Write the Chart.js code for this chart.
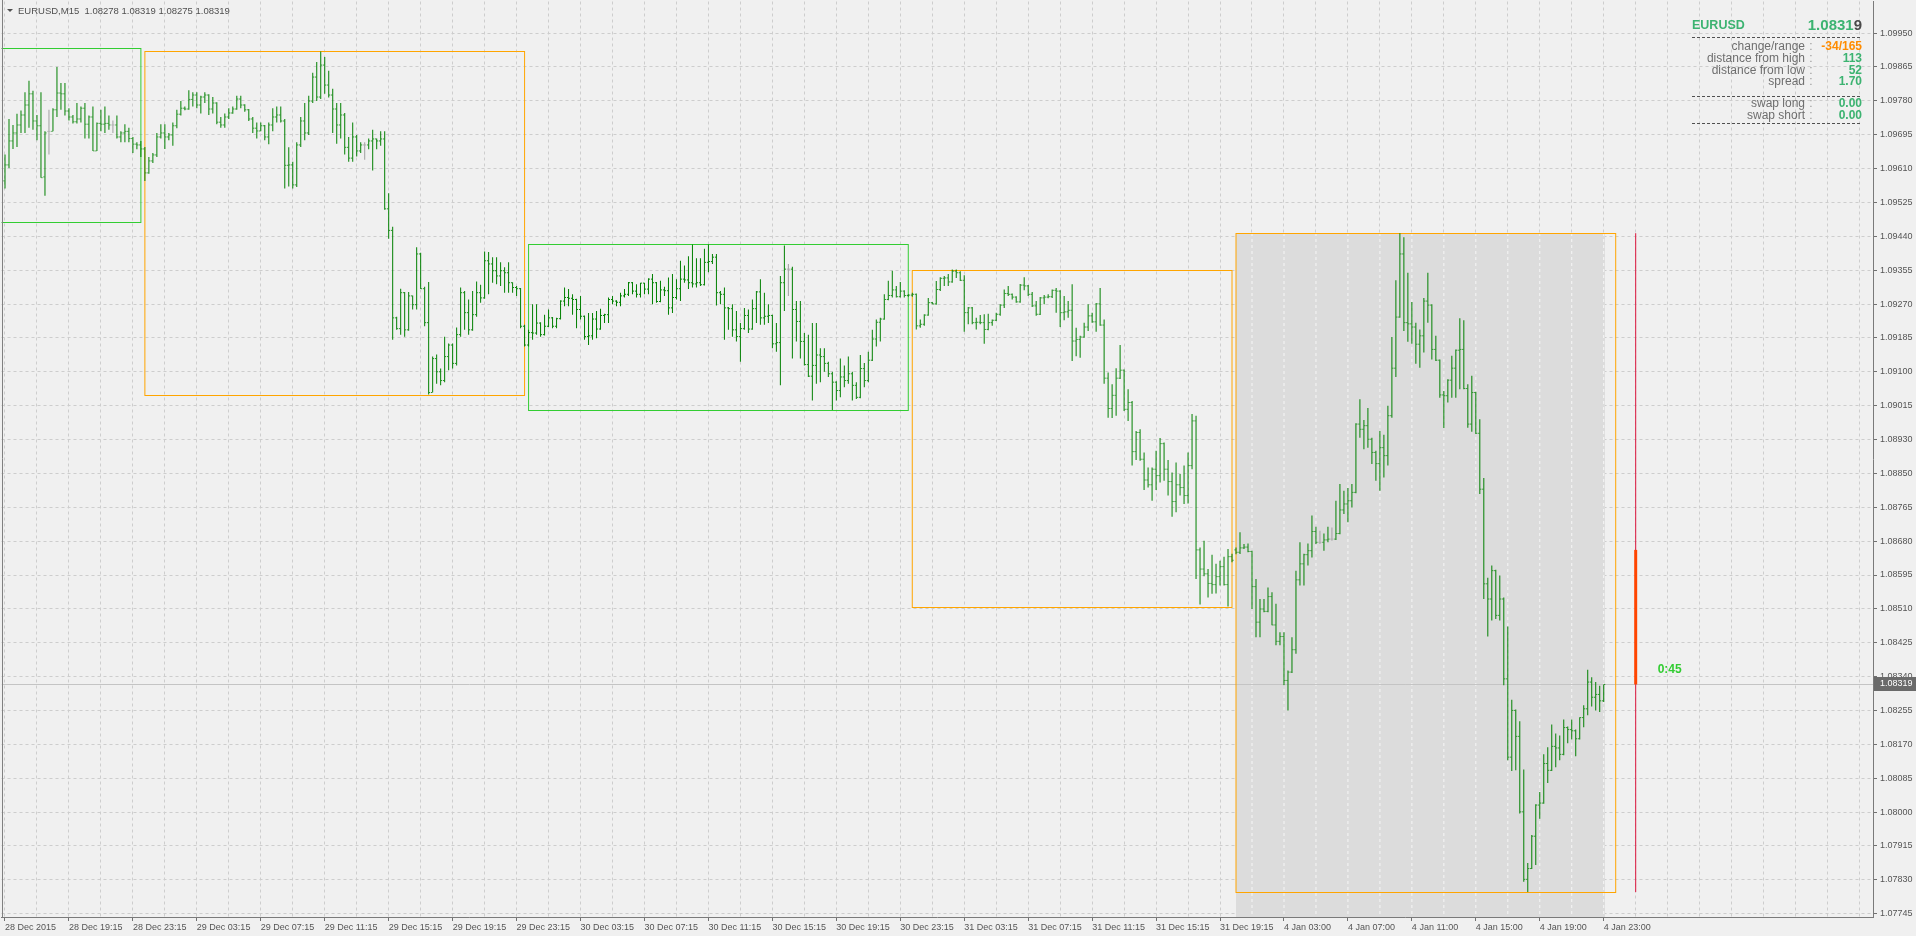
<!DOCTYPE html>
<html>
<head>
<meta charset="utf-8">
<script src="https://cdn.jsdelivr.net/npm/chart.js@4.4.1/dist/chart.umd.min.js"></script>
<style>
  html, body { margin: 0; padding: 0; background: #f0f0f0; overflow: hidden; }
  #graficoEurusd { display: block; background: #f0f0f0; }
</style>
</head>
<body>
<canvas id="graficoEurusd" width="1916" height="936"></canvas>
<script>
// EURUSD M15, 28 Dec 2015 15:15 .. 4 Jan 2016 23:00 (one entry per bar)
const opens = [
  1.09580,1.09620,1.09680,1.09700,1.09720,1.09745,1.09770,1.09798,1.09730,1.09718,
  1.09590,1.09704,1.09704,1.09758,1.09800,1.09798,1.09755,1.09740,1.09728,1.09735,
  1.09762,1.09722,1.09740,1.09655,1.09724,1.09722,1.09724,1.09720,1.09720,1.09690,
  1.09700,1.09704,1.09686,1.09672,1.09670,1.09660,1.09600,1.09630,1.09645,1.09690,
  1.09700,1.09690,1.09695,1.09718,1.09747,1.09762,1.09760,1.09784,1.09795,1.09770,
  1.09790,1.09795,1.09760,1.09775,1.09727,1.09720,1.09740,1.09750,1.09760,1.09785,
  1.09770,1.09758,1.09735,1.09712,1.09705,1.09718,1.09690,1.09720,1.09740,1.09745,
  1.09730,1.09619,1.09620,1.09570,1.09670,1.09730,1.09700,1.09780,1.09840,1.09790,
  1.09870,1.09820,1.09795,1.09760,1.09720,1.09745,1.09664,1.09637,1.09690,1.09655,
  1.09670,1.09670,1.09680,1.09685,1.09680,1.09685,1.09510,1.09456,1.09237,1.09210,
  1.09300,1.09207,1.09292,1.09270,1.09397,1.09310,1.09225,1.09050,1.09135,1.09102,
  1.09080,1.09140,1.09169,1.09123,1.09195,1.09300,1.09250,1.09207,1.09245,1.09300,
  1.09287,1.09380,1.09372,1.09355,1.09342,1.09355,1.09350,1.09325,1.09313,1.09310,
  1.09216,1.09169,1.09200,1.09199,1.09224,1.09195,1.09216,1.09237,1.09216,1.09235,
  1.09279,1.09288,1.09286,1.09283,1.09258,1.09241,1.09190,1.09192,1.09234,1.09209,
  1.09243,1.09245,1.09283,1.09279,1.09276,1.09292,1.09296,1.09325,1.09304,1.09296,
  1.09324,1.09309,1.09334,1.09325,1.09278,1.09307,1.09305,1.09262,1.09288,1.09310,
  1.09334,1.09332,1.09325,1.09322,1.09325,1.09320,1.09376,1.09378,1.09389,1.09300,
  1.09296,1.09262,1.09260,1.09207,1.09190,1.09210,1.09243,1.09209,1.09260,1.09302,
  1.09237,1.09241,1.09243,1.09172,1.09175,1.09325,1.09359,1.09359,1.09258,1.09228,
  1.09178,1.09120,1.09091,1.09118,1.09144,1.09140,1.09123,1.09097,1.09076,1.09055,
  1.09089,1.09080,1.09097,1.09068,1.09038,1.09110,1.09080,1.09131,1.09184,1.09226,
  1.09234,1.09283,1.09293,1.09307,1.09290,1.09304,1.09293,1.09294,1.09296,1.09217,
  1.09221,1.09244,1.09275,1.09272,1.09308,1.09336,1.09337,1.09327,1.09354,1.09350,
  1.09331,1.09250,1.09262,1.09225,1.09226,1.09225,1.09208,1.09225,1.09231,1.09246,
  1.09269,1.09298,1.09296,1.09289,1.09277,1.09319,1.09317,1.09296,1.09267,1.09246,
  1.09287,1.09289,1.09290,1.09306,1.09304,1.09250,1.09252,1.09256,1.09179,1.09183,
  1.09189,1.09214,1.09242,1.09227,1.09272,1.09219,1.09086,1.09010,1.09043,1.09086,
  1.09106,1.09008,1.09025,1.08902,1.08950,1.08883,1.08831,1.08819,1.08858,1.08842,
  1.08922,1.08858,1.08827,1.08777,1.08819,1.08812,1.08792,1.08867,1.08979,1.08656,
  1.08608,1.08596,1.08572,1.08569,1.08589,1.08614,1.08569,1.08639,1.08656,1.08650,
  1.08661,1.08663,1.08652,1.08564,1.08475,1.08508,1.08502,1.08539,1.08468,1.08427,
  1.08439,1.08329,1.08350,1.08406,1.08581,1.08621,1.08644,1.08654,1.08702,1.08675,
  1.08675,1.08681,1.08683,1.08683,1.08697,1.08756,1.08771,1.08779,1.08800,1.08971,
  1.08958,1.08967,1.08933,1.08900,1.08872,1.08912,1.08892,1.08992,1.09111,1.09239,
  1.09397,1.09225,1.09222,1.09214,1.09171,1.09192,1.09279,1.09269,1.09158,1.09131,
  1.09044,1.09042,1.09081,1.09111,1.09156,1.09158,1.09060,1.08971,1.09050,1.08948,
  1.08808,1.08571,1.08533,1.08604,1.08492,1.08533,1.08333,1.08137,1.08254,1.08189,
  1.08000,1.07831,1.07858,1.07939,1.08017,1.08022,1.08121,1.08104,1.08164,1.08160,
  1.08144,1.08211,1.08206,1.08203,1.08183,1.08236,1.08258,1.08325,1.08287,1.08294,
  1.08278
];
const highs = [
  1.09646,1.09735,1.09720,1.09748,1.09756,1.09802,1.09831,1.09806,1.09745,1.09802,
  1.09704,1.09758,1.09762,1.09865,1.09825,1.09825,1.09762,1.09745,1.09775,1.09766,
  1.09775,1.09744,1.09766,1.09726,1.09758,1.09766,1.09744,1.09731,1.09744,1.09704,
  1.09722,1.09713,1.09690,1.09677,1.09680,1.09665,1.09640,1.09650,1.09700,1.09722,
  1.09722,1.09700,1.09726,1.09758,1.09780,1.09766,1.09807,1.09802,1.09802,1.09793,
  1.09802,1.09797,1.09790,1.09777,1.09740,1.09749,1.09762,1.09766,1.09793,1.09793,
  1.09772,1.09760,1.09740,1.09726,1.09726,1.09720,1.09726,1.09762,1.09766,1.09766,
  1.09735,1.09664,1.09628,1.09677,1.09740,1.09775,1.09793,1.09851,1.09878,1.09904,
  1.09890,1.09856,1.09811,1.09775,1.09775,1.09750,1.09690,1.09726,1.09695,1.09677,
  1.09677,1.09686,1.09708,1.09686,1.09704,1.09704,1.09549,1.09465,1.09240,1.09310,
  1.09302,1.09302,1.09293,1.09414,1.09400,1.09315,1.09327,1.09140,1.09145,1.09110,
  1.09190,1.09173,1.09173,1.09213,1.09313,1.09304,1.09283,1.09304,1.09328,1.09320,
  1.09403,1.09402,1.09389,1.09389,1.09376,1.09364,1.09376,1.09326,1.09317,1.09312,
  1.09220,1.09207,1.09271,1.09271,1.09226,1.09245,1.09258,1.09239,1.09237,1.09281,
  1.09313,1.09309,1.09296,1.09285,1.09292,1.09243,1.09249,1.09249,1.09254,1.09260,
  1.09247,1.09288,1.09292,1.09281,1.09300,1.09309,1.09327,1.09327,1.09321,1.09325,
  1.09325,1.09336,1.09347,1.09327,1.09330,1.09315,1.09338,1.09347,1.09334,1.09380,
  1.09368,1.09391,1.09421,1.09386,1.09386,1.09410,1.09421,1.09397,1.09397,1.09304,
  1.09313,1.09264,1.09271,1.09254,1.09224,1.09262,1.09258,1.09283,1.09304,1.09334,
  1.09300,1.09271,1.09245,1.09224,1.09342,1.09418,1.09372,1.09365,1.09279,1.09279,
  1.09199,1.09195,1.09224,1.09224,1.09161,1.09161,1.09127,1.09102,1.09078,1.09135,
  1.09118,1.09140,1.09102,1.09076,1.09144,1.09124,1.09152,1.09207,1.09233,1.09237,
  1.09296,1.09330,1.09355,1.09317,1.09327,1.09306,1.09296,1.09300,1.09298,1.09233,
  1.09246,1.09287,1.09277,1.09329,1.09339,1.09342,1.09347,1.09358,1.09358,1.09354,
  1.09344,1.09264,1.09264,1.09237,1.09244,1.09246,1.09247,1.09233,1.09250,1.09271,
  1.09308,1.09317,1.09298,1.09291,1.09322,1.09339,1.09319,1.09302,1.09279,1.09289,
  1.09294,1.09296,1.09308,1.09312,1.09306,1.09292,1.09279,1.09321,1.09212,1.09192,
  1.09225,1.09271,1.09250,1.09274,1.09312,1.09233,1.09100,1.09071,1.09111,1.09169,
  1.09108,1.09058,1.09029,1.08954,1.08958,1.08900,1.08862,1.08862,1.08904,1.08936,
  1.08925,1.08881,1.08850,1.08875,1.08846,1.08867,1.08900,1.08996,1.08992,1.08662,
  1.08679,1.08608,1.08644,1.08621,1.08629,1.08639,1.08658,1.08646,1.08662,1.08700,
  1.08671,1.08672,1.08654,1.08583,1.08533,1.08533,1.08562,1.08550,1.08521,1.08450,
  1.08450,1.08354,1.08437,1.08604,1.08675,1.08646,1.08672,1.08742,1.08714,1.08704,
  1.08697,1.08714,1.08712,1.08779,1.08821,1.08804,1.08811,1.08821,1.08973,1.09033,
  1.08981,1.09011,1.08937,1.08904,1.08954,1.08944,1.09017,1.09189,1.09331,1.09449,
  1.09439,1.09350,1.09277,1.09225,1.09208,1.09287,1.09350,1.09271,1.09192,1.09133,
  1.09054,1.09083,1.09142,1.09158,1.09236,1.09231,1.09071,1.09092,1.09052,1.08983,
  1.08836,1.08586,1.08617,1.08606,1.08592,1.08537,1.08464,1.08281,1.08256,1.08227,
  1.08106,1.07872,1.07942,1.08019,1.08050,1.08144,1.08162,1.08219,1.08196,1.08191,
  1.08231,1.08214,1.08231,1.08206,1.08237,1.08267,1.08356,1.08337,1.08325,1.08316,
  1.08319
];
const lows = [
  1.09561,1.09612,1.09660,1.09665,1.09700,1.09700,1.09713,1.09708,1.09682,1.09588,
  1.09543,1.09646,1.09704,1.09740,1.09758,1.09744,1.09731,1.09724,1.09724,1.09726,
  1.09686,1.09686,1.09655,1.09655,1.09704,1.09700,1.09708,1.09700,1.09686,1.09677,
  1.09677,1.09677,1.09650,1.09659,1.09640,1.09580,1.09598,1.09625,1.09640,1.09686,
  1.09660,1.09682,1.09668,1.09712,1.09744,1.09757,1.09758,1.09766,1.09762,1.09749,
  1.09775,1.09745,1.09749,1.09722,1.09713,1.09713,1.09735,1.09748,1.09758,1.09762,
  1.09753,1.09730,1.09700,1.09686,1.09704,1.09682,1.09672,1.09704,1.09726,1.09726,
  1.09561,1.09566,1.09561,1.09565,1.09665,1.09682,1.09695,1.09775,1.09780,1.09785,
  1.09798,1.09789,1.09700,1.09673,1.09686,1.09646,1.09628,1.09628,1.09641,1.09650,
  1.09633,1.09659,1.09606,1.09659,1.09668,1.09508,1.09435,1.09182,1.09207,1.09195,
  1.09190,1.09205,1.09258,1.09258,1.09309,1.09216,1.09045,1.09050,1.09072,1.09068,
  1.09076,1.09106,1.09110,1.09118,1.09190,1.09207,1.09195,1.09205,1.09240,1.09275,
  1.09285,1.09296,1.09325,1.09321,1.09317,1.09300,1.09300,1.09300,1.09292,1.09211,
  1.09165,1.09165,1.09182,1.09195,1.09190,1.09193,1.09214,1.09211,1.09211,1.09233,
  1.09266,1.09266,1.09245,1.09211,1.09233,1.09182,1.09169,1.09182,1.09186,1.09207,
  1.09224,1.09224,1.09271,1.09266,1.09266,1.09288,1.09292,1.09296,1.09288,1.09288,
  1.09296,1.09296,1.09271,1.09275,1.09276,1.09292,1.09245,1.09249,1.09283,1.09279,
  1.09325,1.09309,1.09313,1.09313,1.09317,1.09318,1.09351,1.09372,1.09268,1.09271,
  1.09182,1.09207,1.09190,1.09178,1.09127,1.09207,1.09199,1.09207,1.09224,1.09220,
  1.09220,1.09224,1.09161,1.09152,1.09068,1.09254,1.09292,1.09135,1.09178,1.09135,
  1.09118,1.09089,1.09030,1.09072,1.09076,1.09102,1.09089,1.09006,1.09030,1.09038,
  1.09063,1.09072,1.09030,1.09034,1.09036,1.09063,1.09076,1.09129,1.09165,1.09178,
  1.09232,1.09281,1.09288,1.09288,1.09288,1.09288,1.09290,1.09290,1.09208,1.09212,
  1.09217,1.09242,1.09271,1.09270,1.09304,1.09317,1.09317,1.09325,1.09337,1.09329,
  1.09202,1.09221,1.09221,1.09208,1.09221,1.09172,1.09206,1.09217,1.09229,1.09242,
  1.09262,1.09292,1.09283,1.09275,1.09275,1.09306,1.09292,1.09264,1.09242,1.09244,
  1.09271,1.09286,1.09287,1.09250,1.09214,1.09231,1.09237,1.09129,1.09141,1.09137,
  1.09187,1.09204,1.09225,1.09202,1.09217,1.09072,1.08987,1.08986,1.08992,1.09084,
  1.09004,1.08979,1.08867,1.08881,1.08879,1.08806,1.08812,1.08779,1.08806,1.08825,
  1.08829,1.08792,1.08739,1.08750,1.08792,1.08771,1.08772,1.08858,1.08583,1.08519,
  1.08590,1.08537,1.08546,1.08547,1.08567,1.08567,1.08514,1.08625,1.08645,1.08646,
  1.08658,1.08650,1.08508,1.08437,1.08437,1.08500,1.08500,1.08467,1.08417,1.08417,
  1.08317,1.08254,1.08348,1.08396,1.08567,1.08567,1.08617,1.08637,1.08671,1.08671,
  1.08654,1.08675,1.08679,1.08681,1.08695,1.08746,1.08725,1.08762,1.08798,1.08937,
  1.08908,1.08912,1.08871,1.08829,1.08804,1.08837,1.08867,1.08987,1.09089,1.09237,
  1.09204,1.09177,1.09172,1.09122,1.09112,1.09150,1.09225,1.09133,1.09129,1.09037,
  1.08961,1.09025,1.09037,1.09037,1.09058,1.09058,1.08962,1.08952,1.08946,1.08796,
  1.08533,1.08439,1.08479,1.08483,1.08479,1.08317,1.08129,1.08102,1.08104,1.07996,
  1.07825,1.07799,1.07857,1.07867,1.07983,1.08020,1.08072,1.08102,1.08112,1.08129,
  1.08142,1.08172,1.08181,1.08139,1.08181,1.08212,1.08242,1.08264,1.08254,1.08250,
  1.08275
];
const closes = [
  1.09620,1.09680,1.09700,1.09720,1.09745,1.09770,1.09798,1.09730,1.09718,1.09588,
  1.09700,1.09704,1.09758,1.09800,1.09798,1.09755,1.09740,1.09728,1.09735,1.09762,
  1.09722,1.09740,1.09655,1.09724,1.09722,1.09724,1.09720,1.09720,1.09690,1.09700,
  1.09704,1.09686,1.09672,1.09670,1.09660,1.09600,1.09630,1.09645,1.09690,1.09700,
  1.09690,1.09695,1.09718,1.09747,1.09762,1.09760,1.09784,1.09795,1.09770,1.09790,
  1.09795,1.09760,1.09775,1.09727,1.09720,1.09740,1.09750,1.09760,1.09785,1.09770,
  1.09758,1.09735,1.09712,1.09705,1.09718,1.09690,1.09720,1.09740,1.09745,1.09730,
  1.09619,1.09620,1.09570,1.09670,1.09730,1.09700,1.09780,1.09840,1.09790,1.09870,
  1.09820,1.09795,1.09760,1.09720,1.09745,1.09664,1.09637,1.09690,1.09655,1.09670,
  1.09670,1.09680,1.09685,1.09680,1.09685,1.09510,1.09456,1.09237,1.09210,1.09300,
  1.09207,1.09292,1.09270,1.09397,1.09310,1.09225,1.09050,1.09135,1.09102,1.09080,
  1.09140,1.09169,1.09123,1.09195,1.09300,1.09250,1.09207,1.09245,1.09300,1.09287,
  1.09380,1.09372,1.09355,1.09342,1.09355,1.09350,1.09325,1.09313,1.09310,1.09216,
  1.09169,1.09200,1.09199,1.09224,1.09195,1.09216,1.09237,1.09216,1.09235,1.09279,
  1.09288,1.09286,1.09283,1.09258,1.09241,1.09190,1.09192,1.09234,1.09209,1.09243,
  1.09245,1.09283,1.09279,1.09276,1.09292,1.09296,1.09325,1.09304,1.09296,1.09324,
  1.09309,1.09334,1.09325,1.09278,1.09307,1.09305,1.09262,1.09288,1.09310,1.09334,
  1.09332,1.09325,1.09322,1.09325,1.09320,1.09376,1.09378,1.09389,1.09300,1.09296,
  1.09262,1.09260,1.09207,1.09190,1.09210,1.09243,1.09209,1.09260,1.09302,1.09237,
  1.09241,1.09243,1.09172,1.09175,1.09325,1.09359,1.09359,1.09258,1.09228,1.09178,
  1.09120,1.09091,1.09118,1.09144,1.09140,1.09123,1.09097,1.09076,1.09055,1.09089,
  1.09080,1.09097,1.09068,1.09038,1.09110,1.09080,1.09131,1.09184,1.09226,1.09234,
  1.09283,1.09293,1.09307,1.09290,1.09304,1.09293,1.09294,1.09296,1.09217,1.09221,
  1.09244,1.09275,1.09272,1.09308,1.09336,1.09337,1.09327,1.09354,1.09350,1.09331,
  1.09250,1.09262,1.09225,1.09226,1.09225,1.09208,1.09225,1.09231,1.09246,1.09269,
  1.09298,1.09296,1.09289,1.09277,1.09319,1.09317,1.09296,1.09267,1.09246,1.09287,
  1.09289,1.09290,1.09306,1.09304,1.09250,1.09252,1.09256,1.09179,1.09183,1.09189,
  1.09214,1.09242,1.09227,1.09272,1.09219,1.09086,1.09010,1.09043,1.09086,1.09106,
  1.09008,1.09025,1.08902,1.08950,1.08883,1.08831,1.08819,1.08858,1.08842,1.08922,
  1.08858,1.08827,1.08777,1.08819,1.08812,1.08792,1.08867,1.08979,1.08656,1.08608,
  1.08596,1.08572,1.08569,1.08589,1.08614,1.08569,1.08639,1.08630,1.08650,1.08661,
  1.08663,1.08652,1.08564,1.08475,1.08508,1.08502,1.08539,1.08468,1.08427,1.08439,
  1.08329,1.08350,1.08406,1.08581,1.08621,1.08644,1.08654,1.08702,1.08675,1.08675,
  1.08681,1.08683,1.08683,1.08697,1.08756,1.08771,1.08779,1.08800,1.08971,1.08958,
  1.08967,1.08933,1.08900,1.08872,1.08912,1.08892,1.08992,1.09111,1.09239,1.09397,
  1.09225,1.09222,1.09214,1.09171,1.09192,1.09279,1.09269,1.09158,1.09131,1.09044,
  1.09042,1.09081,1.09111,1.09156,1.09158,1.09060,1.08971,1.09050,1.08948,1.08808,
  1.08571,1.08533,1.08604,1.08492,1.08533,1.08333,1.08137,1.08254,1.08189,1.08000,
  1.07831,1.07858,1.07939,1.08017,1.08022,1.08121,1.08104,1.08164,1.08160,1.08144,
  1.08211,1.08206,1.08203,1.08183,1.08236,1.08258,1.08325,1.08287,1.08294,1.08278,
  1.08319
];

// time labels, one every 16 bars (4 hours)
const xLabels = [
  '28 Dec 2015', '28 Dec 19:15', '28 Dec 23:15', '29 Dec 03:15', '29 Dec 07:15', '29 Dec 11:15',
  '29 Dec 15:15', '29 Dec 19:15', '29 Dec 23:15', '30 Dec 03:15', '30 Dec 07:15', '30 Dec 11:15',
  '30 Dec 15:15', '30 Dec 19:15', '30 Dec 23:15', '31 Dec 03:15', '31 Dec 07:15', '31 Dec 11:15',
  '31 Dec 15:15', '31 Dec 19:15', '4 Jan 03:00', '4 Jan 07:00', '4 Jan 11:00', '4 Jan 15:00',
  '4 Jan 19:00', '4 Jan 23:00'
];
const yLabels = [
  1.09950, 1.09865, 1.09780, 1.09695, 1.09610, 1.09525, 1.09440, 1.09355, 1.09270,
  1.09185, 1.09100, 1.09015, 1.08930, 1.08850, 1.08765, 1.08680, 1.08595, 1.08510,
  1.08425, 1.08340, 1.08255, 1.08170, 1.08085, 1.08000, 1.07915, 1.07830, 1.07745
];

// daily session boxes (bar index of first/last bar of each day)
const boxStart = [-61, 35, 131, 227, 308];
const boxEnd = [34, 130, 226, 307, 403];
const boxHigh = [1.09913, 1.09904, 1.09421, 1.09358, 1.09449];
const boxLow = [1.09476, 1.09045, 1.09006, 1.08514, 1.07799];
const boxColor = ['#32cd32', '#ffa500', '#32cd32', '#ffa500', '#ffa500'];

const symbol = 'EURUSD';
const period = 'M15';
const spread = 1.70;
const swapLong = 0.00;
const swapShort = 0.00;
const barTimer = '0:45';
const rangeBarIndex = 408;

const FONT = "'Liberation Sans', Arial, sans-serif";
const GREEN = '#008000';
const GRAY = '#a0a0a0';
const last = closes.length - 1;
const isFlat = (i) => opens[i] === closes[i];
const barColor = (c) => (isFlat(c.dataIndex) ? GRAY : GREEN);

const yStep = (yLabels[0] - yLabels[yLabels.length - 1]) / (yLabels.length - 1);

const extras = {
  id: 'extras',
  beforeDatasetsDraw(chart) {
    const { ctx, chartArea: area, scales: { x, y } } = chart;
    const d = boxStart.length - 1;
    ctx.save();
    ctx.beginPath();
    ctx.rect(area.left, area.top, area.width, area.height);
    ctx.clip();

    // current day shading
    const sx1 = Math.round(x.getPixelForValue(boxStart[d]));
    const sx2 = Math.round(x.getPixelForValue(last));
    const sy = Math.round(y.getPixelForValue(boxHigh[d]));
    ctx.fillStyle = '#dcdcdc';
    ctx.fillRect(sx1, sy, sx2 - sx1 + 1, area.bottom - sy);
    ctx.strokeStyle = '#f6f6f6';
    ctx.lineWidth = 1;
    ctx.setLineDash([3, 3]);
    x.ticks.forEach((t) => {
      const px = x.getPixelForValue(t.value);
      if (px > sx1 && px < sx2) {
        ctx.beginPath();
        ctx.moveTo(px, sy);
        ctx.lineTo(px, area.bottom);
        ctx.stroke();
      }
    });
    ctx.setLineDash([]);

    // bid line
    const py = Math.round(y.getPixelForValue(closes[last])) + 0.5;
    ctx.strokeStyle = '#c4c4c4';
    ctx.beginPath();
    ctx.moveTo(area.left, py);
    ctx.lineTo(area.right, py);
    ctx.stroke();

    // session boxes
    boxStart.forEach((s, i) => {
      const x1 = x.getPixelForValue(s);
      const x2 = x.getPixelForValue(boxEnd[i]);
      const y1 = Math.round(y.getPixelForValue(boxHigh[i])) + 0.5;
      const y2 = Math.round(y.getPixelForValue(boxLow[i])) + 0.5;
      ctx.strokeStyle = boxColor[i];
      ctx.strokeRect(x1, y1, x2 - x1, y2 - y1);
    });
    ctx.restore();
  },
  afterDatasetsDraw(chart) {
    const { ctx, scales: { x, y } } = chart;
    const d = boxStart.length - 1;
    const dayOpen = opens[boxStart[d]];
    const rx = x.getPixelForValue(rangeBarIndex);
    ctx.save();
    ctx.strokeStyle = '#dc143c';
    ctx.lineWidth = 1;
    ctx.beginPath();
    ctx.moveTo(rx, y.getPixelForValue(boxHigh[d]));
    ctx.lineTo(rx, y.getPixelForValue(boxLow[d]));
    ctx.stroke();
    ctx.strokeStyle = '#ff4500';
    ctx.lineWidth = 3;
    ctx.beginPath();
    ctx.moveTo(rx, y.getPixelForValue(dayOpen));
    ctx.lineTo(rx, y.getPixelForValue(closes[last]));
    ctx.stroke();

    ctx.fillStyle = '#32cd32';
    ctx.font = 'bold 12px ' + FONT;
    ctx.textAlign = 'left';
    ctx.textBaseline = 'middle';
    ctx.fillText(barTimer, x.getPixelForValue(rangeBarIndex + 5) + 2, y.getPixelForValue(closes[last]) - 15);
    ctx.restore();
  },
  afterDraw(chart) {
    const { ctx, chartArea: area, scales: { y } } = chart;
    const d = boxStart.length - 1;
    ctx.save();

    // left frame
    ctx.strokeStyle = '#808080';
    ctx.lineWidth = 1;
    ctx.beginPath();
    ctx.moveTo(2.5, 0);
    ctx.lineTo(2.5, area.bottom);
    ctx.stroke();

    // price label on axis
    const py = Math.round(y.getPixelForValue(closes[last]));
    ctx.fillStyle = '#6a6a6a';
    ctx.fillRect(area.right + 1, py - 7, 43, 14);
    ctx.fillStyle = '#ffffff';
    ctx.font = '9px ' + FONT;
    ctx.textAlign = 'left';
    ctx.textBaseline = 'middle';
    ctx.fillText(closes[last].toFixed(5), area.right + 7, py);

    // title
    ctx.fillStyle = '#505050';
    ctx.beginPath();
    ctx.moveTo(7, 9);
    ctx.lineTo(13, 9);
    ctx.lineTo(10, 12);
    ctx.closePath();
    ctx.fill();
    ctx.font = '9.5px ' + FONT;
    ctx.fillText(symbol + ',' + period + '  ' + [opens[last], highs[last], lows[last], closes[last]].map((v) => v.toFixed(5)).join(' '), 18, 11);

    // info panel
    const left = 1692, right = 1862, labelRight = 1805, colonX = 1811;
    const pip = 0.0001;
    const change = Math.round((closes[last] - opens[boxStart[d]]) / pip);
    const range = Math.round((boxHigh[d] - boxLow[d]) / pip);
    const fromHigh = Math.round((boxHigh[d] - closes[last]) / pip);
    const fromLow = Math.round((closes[last] - boxLow[d]) / pip);

    ctx.fillStyle = '#3cb371';
    ctx.font = 'bold 12.5px ' + FONT;
    ctx.fillText(symbol, left, 26);
    const price = closes[last].toFixed(5);
    ctx.font = 'bold 15px ' + FONT;
    ctx.textAlign = 'right';
    ctx.fillStyle = '#4a4a4a';
    ctx.fillText(price.slice(-1), right, 26);
    const w = ctx.measureText(price.slice(-1)).width;
    ctx.fillStyle = '#3cb371';
    ctx.fillText(price.slice(0, -1), right - w, 26);

    const dashed = (yy) => {
      ctx.strokeStyle = '#505050';
      ctx.setLineDash([3, 2]);
      ctx.beginPath();
      ctx.moveTo(left, yy);
      ctx.lineTo(right, yy);
      ctx.stroke();
      ctx.setLineDash([]);
    };
    const row = (label, value, color, yy) => {
      ctx.textAlign = 'right';
      ctx.font = '12px ' + FONT;
      ctx.fillStyle = '#6e6e6e';
      ctx.fillText(label, labelRight, yy);
      ctx.textAlign = 'center';
      ctx.fillStyle = '#9a9a9a';
      ctx.fillText(':', colonX, yy);
      ctx.textAlign = 'right';
      ctx.font = 'bold 12px ' + FONT;
      ctx.fillStyle = color;
      ctx.fillText(value, right, yy);
    };
    dashed(37.5);
    row('change/range', change + '/' + range, '#ff8c00', 47);
    row('distance from high', String(fromHigh), '#3cb371', 58.7);
    row('distance from low', String(fromLow), '#3cb371', 70.4);
    row('spread', spread.toFixed(2), '#3cb371', 82);
    dashed(96.5);
    row('swap long', swapLong.toFixed(2), '#3cb371', 104);
    row('swap short', swapShort.toFixed(2), '#3cb371', 115.5);
    dashed(123.5);
    ctx.restore();
  }
};

const ctx = document.getElementById('graficoEurusd').getContext('2d');

new Chart(ctx, {
  type: 'bar',
  data: {
    datasets: [
      {
        label: 'High/Low',
        data: opens.map((o, i) => ({ x: i, y: [lows[i], highs[i]] })),
        backgroundColor: barColor,
        borderWidth: 0,
        barThickness: 1,
        inflateAmount: 0
      },
      {
        type: 'scatter',
        label: 'Open',
        data: opens.map((o, i) => ({ x: i - 0.25, y: o })),
        pointStyle: 'line',
        pointRadius: 0.5,
        pointHoverRadius: 0.5,
        pointBorderWidth: 1,
        pointBorderColor: barColor
      },
      {
        type: 'scatter',
        label: 'Close',
        data: closes.map((c, i) => ({ x: i + 0.25, y: c })),
        pointStyle: 'line',
        pointRadius: 0.5,
        pointHoverRadius: 0.5,
        pointBorderWidth: 1,
        pointBorderColor: barColor
      }
    ]
  },
  options: {
    responsive: false,
    animation: false,
    events: [],
    layout: { padding: 0 },
    plugins: {
      legend: { display: false },
      tooltip: { enabled: false }
    },
    scales: {
      x: {
        type: 'linear',
        bounds: 'data',
        offset: false,
        min: -0.875,
        max: 467.375,
        afterBuildTicks: (scale) => {
          const t = [];
          for (let v = 0; v <= 464; v += 8) t.push({ value: v });
          scale.ticks = t;
        },
        afterFit: (scale) => {
          scale.height = 19;
          scale.paddingLeft = 0;
          scale.paddingRight = 0;
        },
        ticks: {
          autoSkip: false,
          maxRotation: 0,
          minRotation: 0,
          align: 'start',
          padding: 1,
          color: '#555555',
          font: { family: FONT, size: 9 },
          callback: (value) => (value % 16 === 0 && xLabels[value / 16]) || ''
        },
        grid: {
          offset: false,
          color: '#cdcdcd',
          lineWidth: 1,
          tickLength: 4,
          tickColor: (c) => (c.tick && c.tick.value % 16 === 0 && xLabels[c.tick.value / 16] ? '#707070' : 'rgba(0,0,0,0)')
        },
        border: { display: true, color: '#7a7a7a', width: 1, dash: [3, 3] }
      },
      y: {
        position: 'right',
        min: 1.077367,
        max: 1.100292,
        afterBuildTicks: (scale) => {
          scale.ticks = yLabels.map((v, k) => ({ value: yLabels[0] - k * yStep }));
        },
        afterFit: (scale) => {
          scale.width = 43;
          scale.paddingTop = 0;
          scale.paddingBottom = 0;
        },
        ticks: {
          padding: 3,
          color: '#555555',
          font: { family: FONT, size: 9 },
          callback: (value, index) => yLabels[index].toFixed(5)
        },
        grid: {
          color: '#cdcdcd',
          lineWidth: 1,
          tickLength: 4,
          tickColor: '#707070'
        },
        border: { display: true, color: '#7a7a7a', width: 1, dash: [3, 3] }
      }
    }
  },
  plugins: [extras]
});
</script>
</body>
</html>
